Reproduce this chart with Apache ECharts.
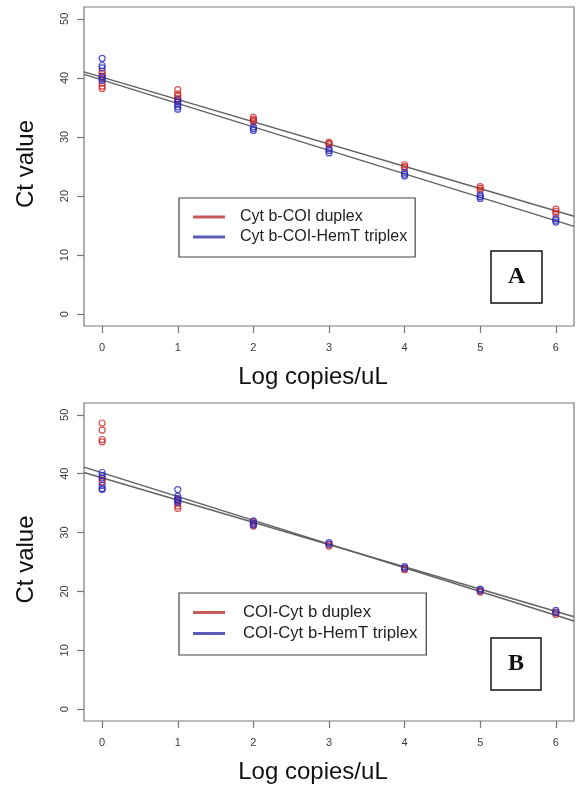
<!DOCTYPE html>
<html>
<head>
<meta charset="utf-8">
<script src="https://cdn.jsdelivr.net/npm/echarts@6/dist/echarts.min.js"></script>
<style>
html,body{margin:0;padding:0;background:#fff;}
#chart{width:581px;height:785px;}
</style>
</head>
<body>
<div id="chart"></div>
<script>
// ---- data ----
const xLevels = [0, 1, 2, 3, 4, 5, 6];
const xTicks = [0, 1, 2, 3, 4, 5, 6];
const yTicks = [0, 10, 20, 30, 40, 50];

const namesA = ['Cyt b-COI duplex', 'Cyt b-COI-HemT triplex'];
const namesB = ['COI-Cyt b duplex', 'COI-Cyt b-HemT triplex'];
const panelLabels = ['A', 'B'];

// replicate Ct values at each log level
const ctA_duplex = [
  [41.1, 40.7, 40.3, 39.1, 38.6, 38.2],
  [38.0, 37.3, 36.9, 36.5, 36.1],
  [33.3, 33.0, 32.8, 32.6],
  [29.1, 28.9, 28.7],
  [25.3, 25.0, 24.8],
  [21.6, 21.3, 21.0],
  [17.8, 17.4, 17.0]
];
const ctA_triplex = [
  [43.3, 42.1, 41.7, 40.2, 39.9, 39.6],
  [36.3, 35.9, 35.5, 35.1, 34.7],
  [31.7, 31.4, 31.1],
  [28.0, 27.7, 27.3],
  [24.0, 23.7, 23.4],
  [20.2, 19.9, 19.6],
  [16.2, 15.9, 15.6]
];
const ctB_duplex = [
  [48.6, 47.4, 45.8, 45.4, 39.0, 38.6],
  [35.6, 35.0, 34.5, 34.1],
  [31.8, 31.4, 31.1],
  [28.0, 27.7],
  [24.0, 23.7],
  [20.2, 19.9],
  [16.5, 16.1]
];
const ctB_triplex = [
  [40.2, 39.7, 39.3, 38.0, 37.5, 37.3],
  [37.3, 36.2, 35.8, 35.5, 35.2],
  [32.0, 31.6, 31.3],
  [28.3, 28.0],
  [24.2, 23.9],
  [20.4, 20.1],
  [16.8, 16.4]
];

// fitted regression lines [intercept, slope]
const fitA_duplex = [40.1, -3.77];
const fitA_triplex = [39.65, -3.97];
const fitB_duplex = [40.13, -4.03];
const fitB_triplex = [39.29, -3.78];

const xRange = [-0.24, 6.24];
const yRange = [-2, 52];

// ---- build ----
const RED = '#cc2424', BLUE = '#2828bb';
const LEG_RED = '#b83232', LEG_BLUE = '#3232a8';
const FONT = 'Liberation Sans, Arial, sans-serif';

function toPoints(levels) {
  const pts = [];
  levels.forEach((vals, i) => vals.forEach(v => pts.push([xLevels[i], v])));
  return pts;
}
function fitLine(fit) {
  return xRange.map(x => [x, fit[0] + fit[1] * x]);
}

const grids = [
  {left: 84, top: 7, width: 490, height: 319},
  {left: 84, top: 403, width: 490, height: 318}
].map(g => Object.assign(g, {show: true, borderColor: '#7a7a7a', borderWidth: 1.2, backgroundColor: '#fff'}));

function xAxis(i) {
  return {
    type: 'value', gridIndex: i, min: xRange[0], max: xRange[1],
    splitLine: {show: false}, axisLine: {show: false, onZero: false},
    axisTick: {show: true, length: 7, customValues: xTicks, lineStyle: {color: '#777', width: 1.2}},
    axisLabel: {customValues: xTicks, fontSize: 11, color: '#3a3a3a', fontFamily: FONT, margin: 16},
    name: 'Log copies/uL', nameLocation: 'middle', nameGap: 39,
    nameTextStyle: {fontSize: 24, color: '#111', fontFamily: FONT, padding: [0, 32, 0, 0]}
  };
}
function yAxis(i) {
  return {
    type: 'value', gridIndex: i, min: yRange[0], max: yRange[1],
    splitLine: {show: false}, axisLine: {show: false, onZero: false},
    axisTick: {show: true, length: 7, customValues: yTicks, lineStyle: {color: '#777', width: 1.2}},
    axisLabel: {customValues: yTicks, fontSize: 11, color: '#3a3a3a', fontFamily: FONT, rotate: 90, margin: 14},
    name: 'Ct value', nameLocation: 'middle', nameGap: 46,
    nameTextStyle: {fontSize: 24, color: '#111', fontFamily: FONT, padding: [0, 0, 0, 5]}
  };
}

function scatter(name, levels, color, gi) {
  return {
    type: 'scatter', name: name, xAxisIndex: gi, yAxisIndex: gi,
    data: toPoints(levels), symbol: 'circle', symbolSize: 6,
    itemStyle: {color: 'rgba(255,255,255,0)', borderColor: color, borderWidth: 1.2},
    emphasis: {disabled: true}, z: 3
  };
}
function line(fit, gi) {
  return {
    type: 'line', xAxisIndex: gi, yAxisIndex: gi, data: fitLine(fit),
    symbol: 'none', lineStyle: {color: '#626262', width: 1.4}, silent: true, z: 2
  };
}

function legend(names, top, fs, lh, pad, textPad) {
  return {
    orient: 'vertical', left: 179, top: top,
    data: [
      {name: names[0], itemStyle: {color: LEG_RED, borderWidth: 0}},
      {name: names[1], itemStyle: {color: LEG_BLUE, borderWidth: 0}}
    ],
    icon: 'rect', itemWidth: 32, itemHeight: 3, itemGap: 2,
    borderColor: '#444', borderWidth: 1.2, backgroundColor: '#fff',
    padding: pad, selectedMode: false,
    textStyle: {fontSize: fs, color: '#222', fontFamily: FONT, lineHeight: lh, padding: [0, 0, 0, textPad]}
  };
}
function labelBox(text, top) {
  return {
    text: text, left: 491, top: top,
    borderColor: '#111', borderWidth: 1.5, padding: [13, 17, 13, 17],
    textStyle: {fontSize: 24, fontWeight: 'bold', color: '#111', fontFamily: 'Liberation Serif, Times New Roman, serif', lineHeight: 26}
  };
}

const option = {
  animation: false,
  backgroundColor: '#fff',
  grid: grids,
  xAxis: [xAxis(0), xAxis(1)],
  yAxis: [yAxis(0), yAxis(1)],
  title: [labelBox(panelLabels[0], 251), labelBox(panelLabels[1], 638)],
  legend: [
    legend(namesA, 198, 16, 18, [10, 8, 11, 14], 10),
    legend(namesB, 593, 16.7, 19, [10, 9, 12, 14], 13)
  ],
  series: [
    line(fitA_duplex, 0), line(fitA_triplex, 0),
    scatter(namesA[0], ctA_duplex, RED, 0),
    scatter(namesA[1], ctA_triplex, BLUE, 0),
    line(fitB_duplex, 1), line(fitB_triplex, 1),
    scatter(namesB[0], ctB_duplex, RED, 1),
    scatter(namesB[1], ctB_triplex, BLUE, 1)
  ]
};

const chart = echarts.init(document.getElementById('chart'), null, {renderer: 'canvas'});
chart.setOption(option);
</script>
</body>
</html>
